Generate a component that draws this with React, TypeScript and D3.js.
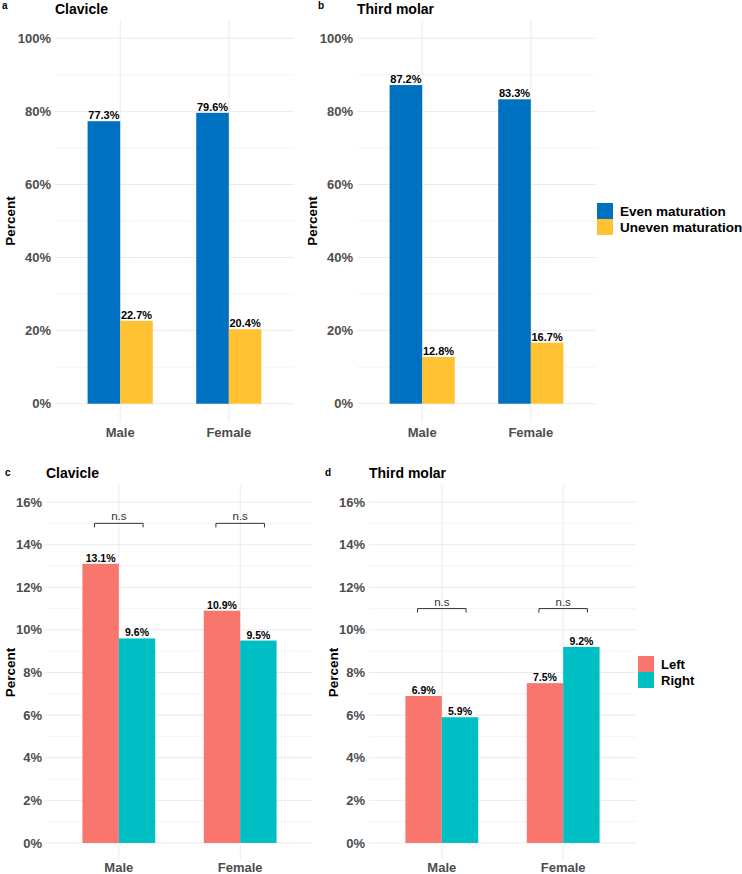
import React from "react";
import * as d3 from "d3";

const sexes = ["Male", "Female"];
const maturation = ["Even maturation", "Uneven maturation"];
const sides = ["Left", "Right"];

// percent of cases, Male then Female
const clavicleEven = [77.3, 79.6];
const clavicleUneven = [22.7, 20.4];
const molarEven = [87.2, 83.3];
const molarUneven = [12.8, 16.7];
const clavicleLeft = [13.1, 10.9];
const clavicleRight = [9.6, 9.5];
const molarLeft = [6.9, 7.5];
const molarRight = [5.9, 9.2];

const topTicks = [0, 20, 40, 60, 80, 100];
const topMinor = [10, 30, 50, 70, 90];
const bottomTicks = [0, 2, 4, 6, 8, 10, 12, 14, 16];
const bottomMinor = [1, 3, 5, 7, 9, 11, 13, 15];

// height of the "n.s" brackets
const clavicleBracket = 15;
const molarBracket = 11;

const matColors = ["#0070C0", "#FFC233"];
const sideColors = ["#F8766D", "#00BFC4"];

const FONT = "'Liberation Sans', Arial, sans-serif";

interface PanelProps {
  letter: string;
  letterX: number;
  letterY: number;
  title: string;
  titleY: number;
  left: number;
  right: number;
  top: number;
  bottom: number;
  xLabelY: number;
  yDomain: [number, number];
  ticks: number[];
  minor: number[];
  series: string[];
  colors: string[];
  values: number[][];
  labelSize: number;
  percentX: number;
  bracket?: number;
}

const Panel: React.FC<PanelProps> = (p) => {
  const x = d3
    .scaleBand()
    .domain(sexes)
    .range([p.left, p.right])
    .paddingInner(0)
    .paddingOuter(0.1);
  const step = x.step();
  const cx = (s: string) => x(s)! + x.bandwidth() / 2;
  const inner = d3
    .scaleBand()
    .domain(p.series)
    .range([-0.3 * step, 0.3 * step]);
  const y = d3.scaleLinear().domain(p.yDomain).range([p.bottom, p.top]);

  return (
    <g>
      <text x={p.letterX} y={p.letterY} fontSize={10} fontWeight="bold" fill="#000">
        {p.letter}
      </text>
      <text x={p.left} y={p.titleY} fontSize={14} fontWeight="bold" fill="#000">
        {p.title}
      </text>

      {/* grid */}
      {p.minor.map((t) => (
        <line key={"m" + t} x1={p.left} x2={p.right} y1={y(t)} y2={y(t)} stroke="#F2F2F2" strokeWidth={0.8} />
      ))}
      {p.ticks.map((t) => (
        <line key={"t" + t} x1={p.left} x2={p.right} y1={y(t)} y2={y(t)} stroke="#EBEBEB" strokeWidth={1} />
      ))}
      {sexes.map((s) => (
        <line key={s} x1={cx(s)} x2={cx(s)} y1={p.top} y2={p.bottom} stroke="#EBEBEB" strokeWidth={1} />
      ))}

      {/* bars */}
      {sexes.map((s, i) =>
        p.series.map((ser, j) => {
          const v = p.values[j][i];
          const bx = cx(s) + inner(ser)!;
          return (
            <g key={s + ser}>
              <rect x={bx} y={y(v)} width={inner.bandwidth()} height={y(0) - y(v)} fill={p.colors[j]} />
              <text
                x={bx + inner.bandwidth() / 2}
                y={y(v) - 2}
                textAnchor="middle"
                fontSize={p.labelSize}
                fontWeight="bold"
                fill="#000"
              >
                {v.toFixed(1)}%
              </text>
            </g>
          );
        })
      )}

      {/* brackets */}
      {p.bracket !== undefined &&
        sexes.map((s) => {
          const x1 = cx(s) - 0.2 * step;
          const x2 = cx(s) + 0.2 * step;
          const yb = y(p.bracket!);
          return (
            <g key={"b" + s}>
              <path d={`M${x1},${yb + 4}V${yb}H${x2}V${yb + 4}`} fill="none" stroke="#333" strokeWidth={1} />
              <text x={cx(s)} y={yb - 3} textAnchor="middle" fontSize={11.5} fill="#333">
                n.s
              </text>
            </g>
          );
        })}

      {/* y axis */}
      {p.ticks.map((t) => (
        <text
          key={"l" + t}
          x={p.left - 4}
          y={y(t)}
          dy="0.35em"
          textAnchor="end"
          fontSize={13}
          fontWeight="bold"
          fill="#4D4D4D"
        >
          {t}%
        </text>
      ))}
      {/* x axis */}
      {sexes.map((s) => (
        <text key={"x" + s} x={cx(s)} y={p.xLabelY} textAnchor="middle" fontSize={13} fontWeight="bold" fill="#4D4D4D">
          {s}
        </text>
      ))}
      <text
        transform={`translate(${p.percentX},${(p.top + p.bottom) / 2}) rotate(-90)`}
        dy="0.35em"
        textAnchor="middle"
        fontSize={13.5}
        fontWeight="bold"
        fill="#000"
      >
        Percent
      </text>
    </g>
  );
};

const Legend: React.FC<{ x: number; y: number; names: string[]; colors: string[]; size: number; fontSize: number }> = ({
  x,
  y,
  names,
  colors,
  size,
  fontSize,
}) => (
  <g>
    {names.map((n, i) => (
      <g key={n}>
        <rect x={x} y={y + i * size} width={size} height={size} fill={colors[i]} />
        <text x={x + size + 7} y={y + i * size + size / 2} dy="0.35em" fontSize={fontSize} fontWeight="bold" fill="#000">
          {n}
        </text>
      </g>
    ))}
  </g>
);

export default function App() {
  return (
    <svg
      width={742}
      height={874}
      style={{ position: "absolute", left: 0, top: 0, background: "#fff", fontFamily: FONT }}
    >
      <Panel
        letter="a"
        letterX={2}
        letterY={9}
        title="Clavicle"
        titleY={14}
        left={55}
        right={294}
        top={20}
        bottom={422}
        xLabelY={437}
        yDomain={[-5, 105]}
        ticks={topTicks}
        minor={topMinor}
        series={maturation}
        colors={matColors}
        values={[clavicleEven, clavicleUneven]}
        labelSize={11}
        percentX={10}
      />
      <Panel
        letter="b"
        letterX={318}
        letterY={9}
        title="Third molar"
        titleY={14}
        left={357}
        right={596}
        top={20}
        bottom={422}
        xLabelY={437}
        yDomain={[-5, 105]}
        ticks={topTicks}
        minor={topMinor}
        series={maturation}
        colors={matColors}
        values={[molarEven, molarUneven]}
        labelSize={11}
        percentX={312}
      />
      <Legend x={597} y={203} names={maturation} colors={matColors} size={16} fontSize={13.5} />
      <Panel
        letter="c"
        letterX={5}
        letterY={476}
        title="Clavicle"
        titleY={478}
        left={46}
        right={313}
        top={485}
        bottom={860}
        xLabelY={872}
        yDomain={[-0.8, 16.8]}
        ticks={bottomTicks}
        minor={bottomMinor}
        series={sides}
        colors={sideColors}
        values={[clavicleLeft, clavicleRight]}
        labelSize={10.5}
        percentX={10}
        bracket={clavicleBracket}
      />
      <Panel
        letter="d"
        letterX={325}
        letterY={476}
        title="Third molar"
        titleY={478}
        left={369}
        right={636}
        top={485}
        bottom={860}
        xLabelY={872}
        yDomain={[-0.8, 16.8]}
        ticks={bottomTicks}
        minor={bottomMinor}
        series={sides}
        colors={sideColors}
        values={[molarLeft, molarRight]}
        labelSize={10.5}
        percentX={333}
        bracket={molarBracket}
      />
      <Legend x={638} y={656} names={sides} colors={sideColors} size={16} fontSize={13} />
    </svg>
  );
}
